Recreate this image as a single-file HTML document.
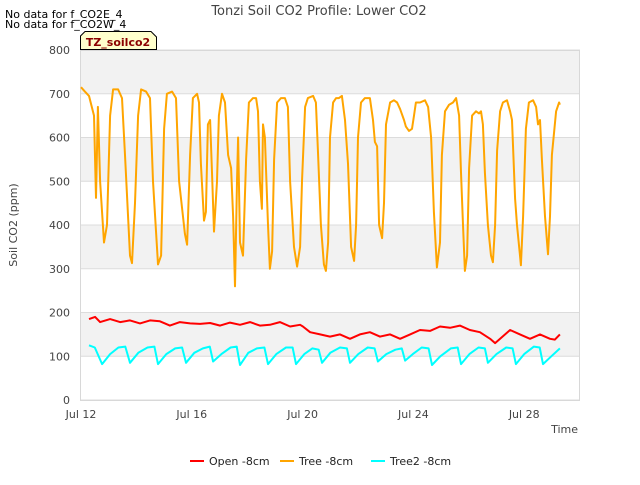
<!DOCTYPE html>
<html><head><meta charset="utf-8"><style>
body{margin:0;background:#fff;width:640px;height:480px;overflow:hidden;font-family:"Liberation Sans","DejaVu Sans",sans-serif}
svg text{font-family:"DejaVu Sans","Liberation Sans",sans-serif}
</style></head><body>
<svg id="chart" width="640" height="480" xmlns="http://www.w3.org/2000/svg">
<text x="319" y="15" text-anchor="middle" font-size="13" fill="#444">Tonzi Soil CO2 Profile: Lower CO2</text>
<text x="5" y="18" font-size="11" fill="#000">No data for f_CO2E_4</text>
<text x="5" y="28" font-size="11" fill="#000">No data for f_CO2W_4</text>
<g id="plot"></g>
<g>
<path d="M80.5,49.5 L80.5,36 L85,31.5 L151,31.5 L156.5,37 L156.5,49.5 Z" fill="#ffffcc" stroke="#000" stroke-width="1"/>
<text x="118" y="46" text-anchor="middle" font-size="11" font-weight="bold" fill="#8b0000">TZ_soilco2</text>
</g>
<text transform="translate(17,225) rotate(-90)" text-anchor="middle" font-size="11" fill="#444">Soil CO2 (ppm)</text>
<text x="578" y="433" text-anchor="end" font-size="11" fill="#444">Time</text>
<g>
<g><line x1="190" y1="461" x2="204" y2="461" stroke="red" stroke-width="2"/><text x="209" y="465" font-size="11" fill="#222">Open -8cm</text></g>
<g><line x1="280" y1="461" x2="294" y2="461" stroke="orange" stroke-width="2"/><text x="299" y="465" font-size="11" fill="#222">Tree -8cm</text></g>
<g><line x1="371" y1="461" x2="385" y2="461" stroke="cyan" stroke-width="2"/><text x="390" y="465" font-size="11" fill="#222">Tree2 -8cm</text></g>
</g>
</svg>
<script>
const yTicks=[0,100,200,300,400,500,600,700,800];
const xTickDays=[0,4,8,12,16];
const xTickLabels=["Jul 12","Jul 16","Jul 20","Jul 24","Jul 28"];
const treeDays=[0.00,0.14,0.29,0.47,0.54,0.61,0.69,0.83,0.94,1.05,1.16,1.34,1.48,1.59,1.77,1.84,1.95,2.06,2.17,2.35,2.49,2.60,2.78,2.89,3.00,3.10,3.29,3.43,3.54,3.75,3.83,3.94,4.04,4.19,4.26,4.33,4.44,4.51,4.58,4.66,4.73,4.80,4.91,4.98,5.09,5.20,5.31,5.42,5.49,5.56,5.63,5.67,5.74,5.85,5.96,6.06,6.21,6.32,6.39,6.46,6.53,6.57,6.64,6.75,6.82,6.90,6.97,7.08,7.22,7.36,7.47,7.55,7.69,7.80,7.91,7.98,8.09,8.19,8.38,8.48,8.56,8.66,8.77,8.84,8.92,8.99,9.10,9.21,9.31,9.42,9.53,9.64,9.75,9.86,9.93,10.00,10.11,10.25,10.43,10.54,10.61,10.69,10.76,10.87,10.94,11.01,11.16,11.30,11.41,11.52,11.66,11.73,11.84,11.95,12.02,12.09,12.24,12.42,12.53,12.64,12.74,12.85,12.96,13.03,13.14,13.29,13.43,13.54,13.65,13.72,13.79,13.86,13.94,14.01,14.12,14.26,14.37,14.44,14.51,14.58,14.69,14.80,14.87,14.95,15.02,15.13,15.23,15.38,15.49,15.56,15.67,15.74,15.85,15.88,15.96,16.06,16.17,16.32,16.43,16.50,16.57,16.64,16.75,16.86,16.93,17.00,17.15,17.26,17.29];
const treeValues=[715,705,695,650,462,670,500,360,400,650,710,710,690,560,330,313,450,650,710,705,690,500,310,330,620,700,705,690,500,380,355,560,690,700,680,540,410,430,630,640,520,385,500,650,700,680,560,530,420,260,500,600,360,330,550,680,690,690,660,500,437,630,600,400,300,340,550,680,690,690,670,500,350,305,350,500,670,690,695,680,560,400,310,295,360,600,680,690,690,695,640,540,350,318,400,600,680,690,690,640,590,580,400,370,450,630,680,685,680,665,640,625,615,620,650,680,680,685,670,600,430,303,360,560,660,675,680,690,650,520,400,295,330,530,650,660,655,660,630,520,400,330,315,400,570,660,680,685,660,640,460,400,330,308,420,620,680,685,670,630,640,550,420,333,420,560,660,680,675];
const openDays=[0.29,0.51,0.69,1.05,1.41,1.77,2.13,2.49,2.85,3.21,3.57,3.94,4.30,4.66,5.02,5.38,5.74,6.10,6.46,6.82,7.18,7.55,7.91,8.01,8.27,8.63,8.99,9.35,9.71,10.07,10.43,10.79,11.16,11.52,11.88,12.24,12.60,12.96,13.32,13.68,14.04,14.40,14.77,14.95,15.13,15.49,15.85,16.21,16.57,16.93,17.11,17.29];
const openValues=[185,190,178,185,178,182,175,182,180,170,178,175,174,176,170,177,172,178,170,172,178,168,172,168,155,150,145,150,140,150,155,145,150,140,150,160,158,168,165,170,160,155,140,130,140,160,150,140,150,140,138,150];
const tree2Days=[0.29,0.50,0.76,1.05,1.35,1.60,1.77,2.07,2.40,2.65,2.78,3.08,3.40,3.65,3.79,4.09,4.40,4.65,4.77,5.07,5.40,5.62,5.74,6.04,6.35,6.62,6.75,7.05,7.40,7.64,7.76,8.06,8.35,8.58,8.70,9.00,9.35,9.60,9.71,10.01,10.35,10.60,10.72,11.02,11.35,11.58,11.70,11.98,12.30,12.55,12.67,12.97,13.35,13.60,13.72,14.02,14.35,14.58,14.69,15.00,15.35,15.58,15.70,16.00,16.35,16.56,16.68,16.98,17.29];
const tree2Values=[125,120,82,105,120,122,85,108,120,122,82,105,118,120,85,108,118,122,88,105,120,122,80,108,118,120,82,105,120,120,82,105,118,115,85,108,120,118,85,105,120,118,88,105,115,118,90,105,120,118,80,100,118,120,82,105,120,118,85,105,120,118,82,105,122,120,82,100,118];

const NS="http://www.w3.org/2000/svg";
const L=80,R=580,T=50,B=400,yMax=800,dayPx=27.7,x0=81;
const xs=d=>x0+d*dayPx;
const ys=v=>B-(v/yMax)*(B-T);
const plot=document.getElementById('plot');
function mk(tag,attrs){const e=document.createElementNS(NS,tag);for(const k in attrs)e.setAttribute(k,attrs[k]);return e;}
plot.appendChild(mk('rect',{x:L,y:T,width:R-L,height:B-T,fill:'#fff'}));
for(let i=0;i<yTicks.length-1;i++){
  if(i%2===1){const b=mk('rect',{x:L,y:ys(yTicks[i+1]),width:R-L,height:ys(yTicks[i])-ys(yTicks[i+1]),fill:'#f2f2f2'});
  
  
  plot.appendChild(b);}
}
yTicks.forEach(v=>{
  const g=mk('line',{x1:L,x2:R,y1:ys(v),y2:ys(v),stroke:'#dcdcdc','stroke-width':1});
  
  
  plot.appendChild(g);
  const t=mk('text',{x:L-10,y:ys(v)+4,'text-anchor':'end','font-size':11,fill:'#444'});
  
  
  t.textContent=v;plot.appendChild(t);
});
plot.appendChild(mk('rect',{x:L+0.5,y:T+0.5,width:R-L-1,height:B-T,fill:'none',stroke:'#d8d8d8'}));
xTickDays.forEach((d,i)=>{
  const t=mk('text',{x:xs(d),y:B+18,'text-anchor':'middle','font-size':11,fill:'#444'});
  
  
  t.textContent=xTickLabels[i];plot.appendChild(t);
});
function line(days,vals,color,name){
  const n=Math.min(days.length,vals.length);let d='';
  for(let i=0;i<n;i++)d+=(i?'L':'M')+xs(days[i]).toFixed(1)+','+ys(vals[i]).toFixed(1);
  const p=mk('path',{d:d,fill:'none',stroke:color,'stroke-width':2,'stroke-linejoin':'round'});
  
  
  plot.appendChild(p);
}
line(openDays,openValues,'red','series-open-8cm');
line(tree2Days,tree2Values,'cyan','series-tree2-8cm');
line(treeDays,treeValues,'orange','series-tree-8cm');
</script>
</body></html>
